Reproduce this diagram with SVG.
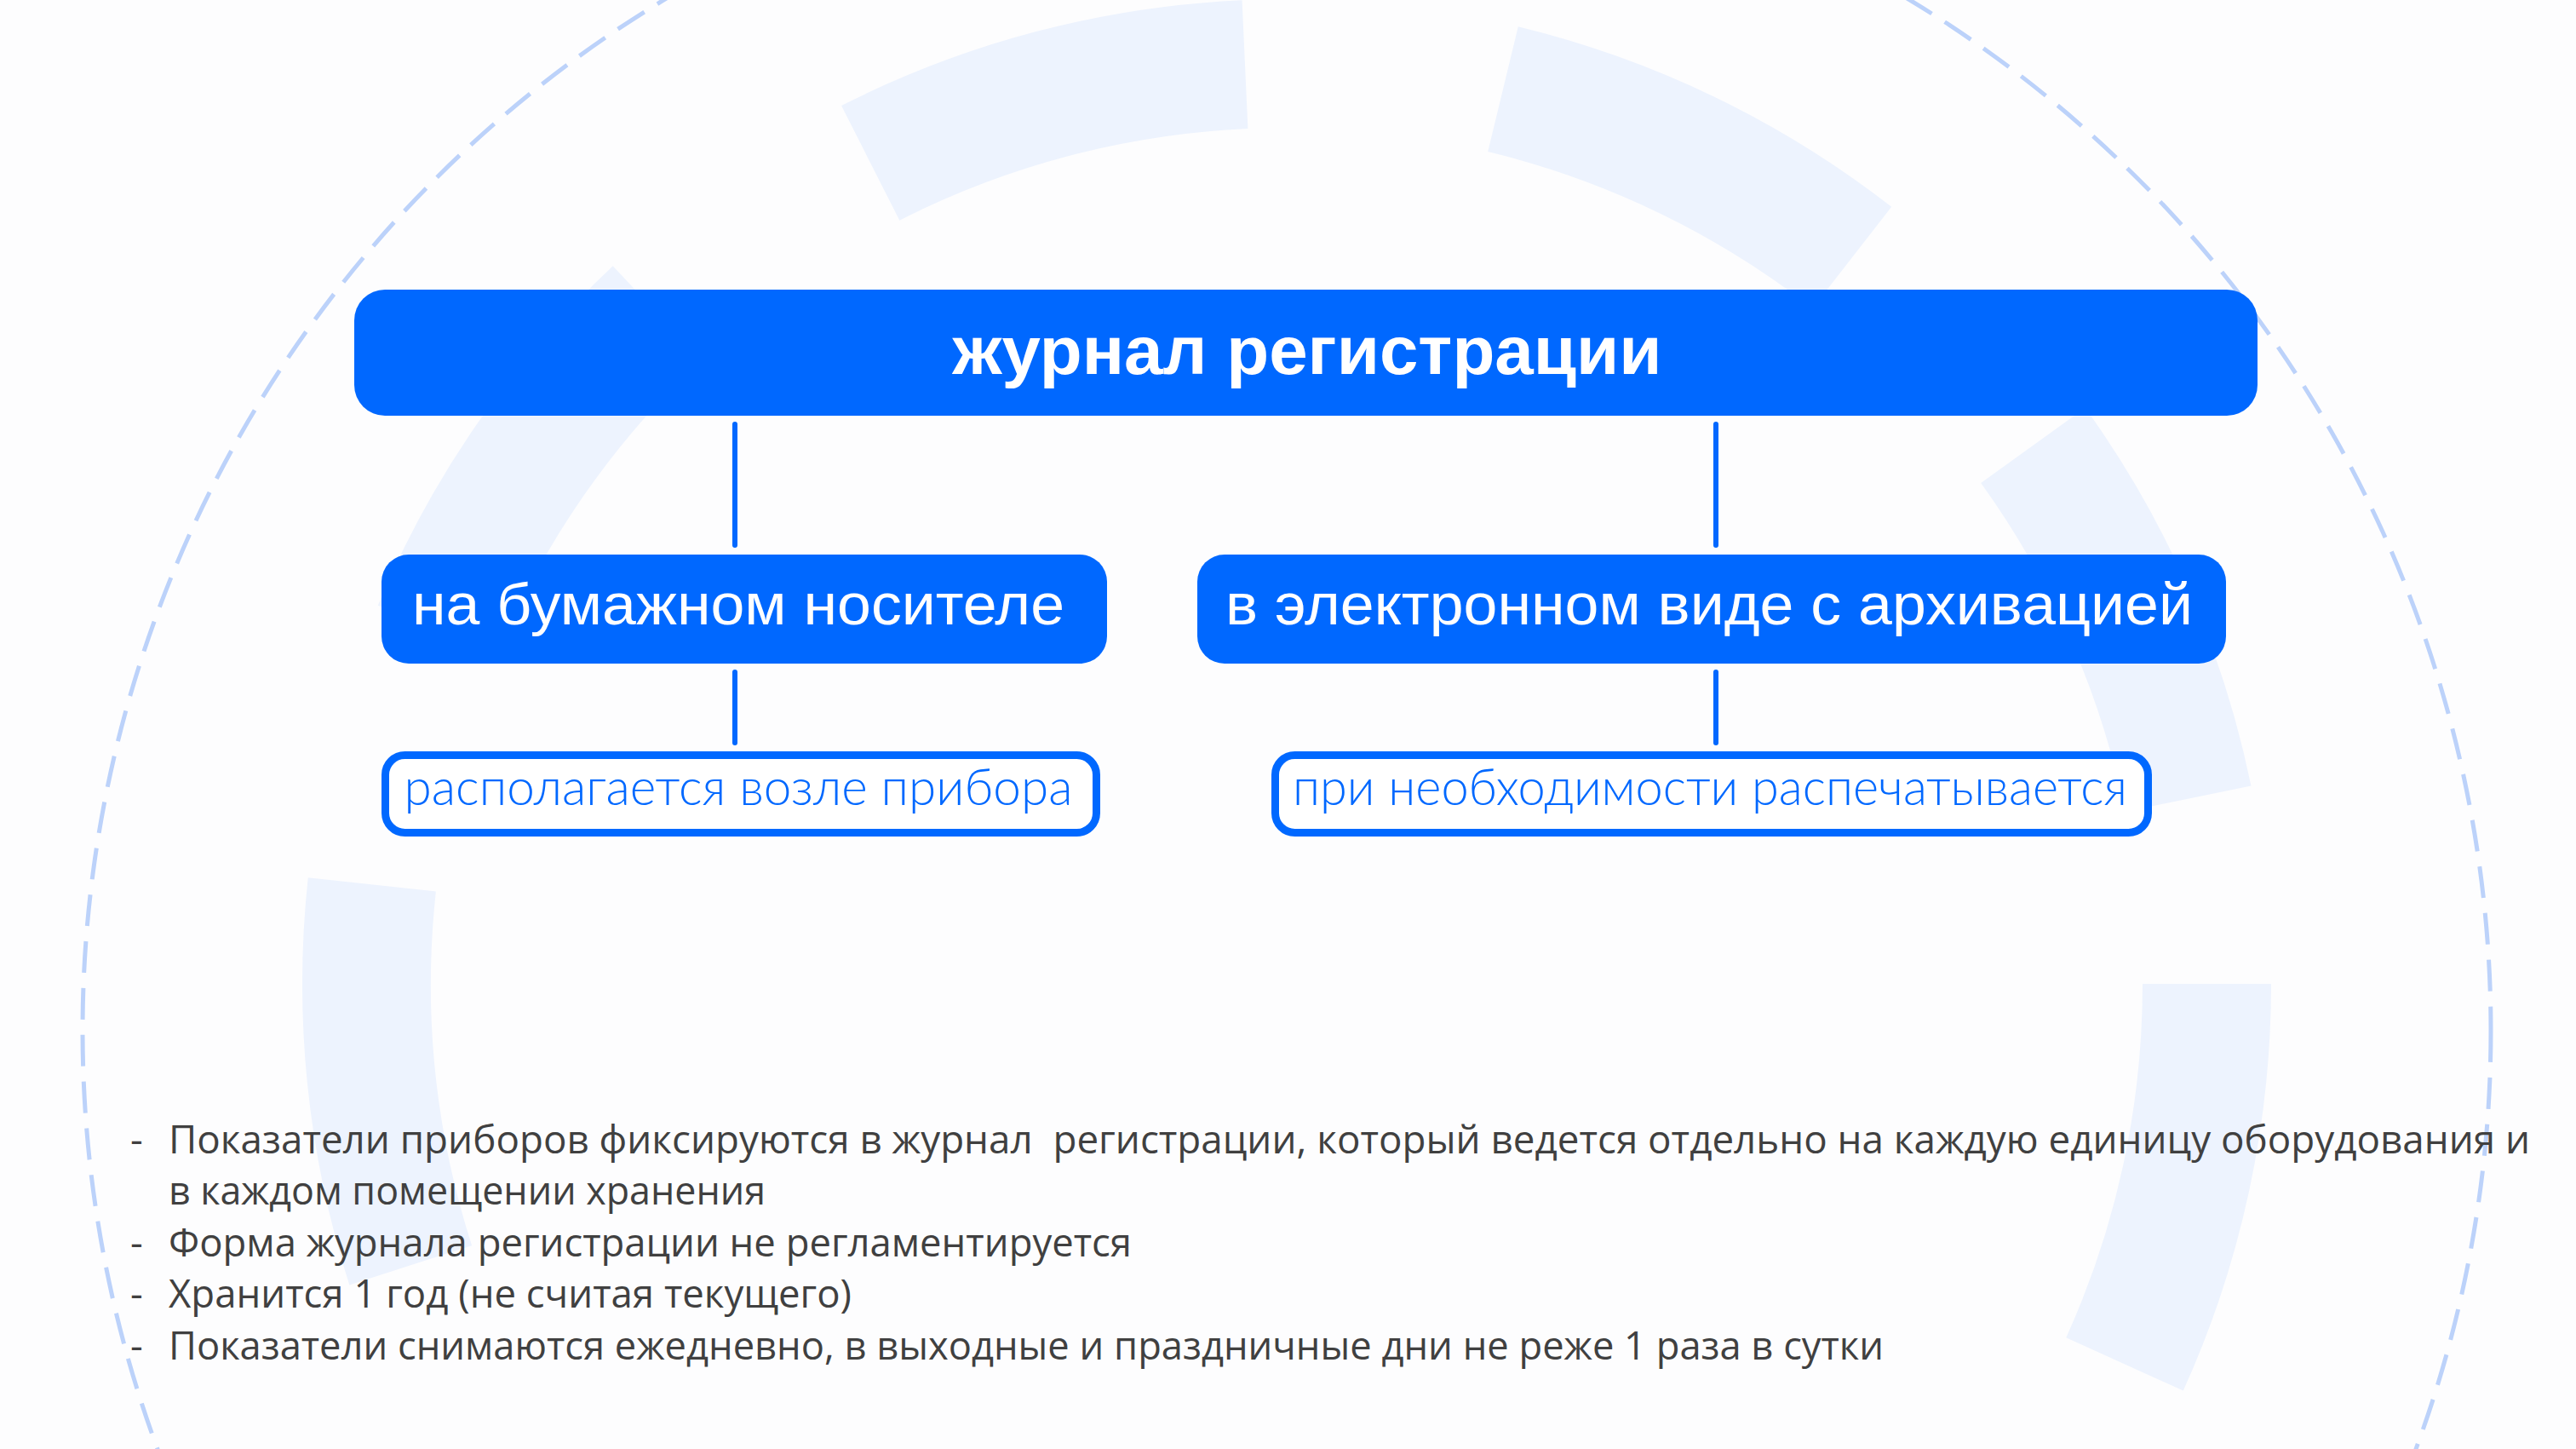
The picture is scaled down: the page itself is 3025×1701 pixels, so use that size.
<svg xmlns="http://www.w3.org/2000/svg" width="3025" height="1701" viewBox="0 0 3025 1701">
<style>
.ring{fill:none;stroke:#edf3fe;stroke-width:151;stroke-linecap:butt}
.dash{fill:none;stroke:#bcd2fa;stroke-width:5;stroke-dasharray:37 18}
.solid{fill:#0068ff}
.outline{fill:#ffffff;stroke:#0068ff;stroke-width:9}
.conn{stroke:#0068ff;stroke-width:6;stroke-linecap:round}
.t1{font-family:"Liberation Sans",Arial,sans-serif;font-weight:bold;font-size:80px;fill:#ffffff;text-anchor:middle}
.t2{font-family:"Liberation Sans",Arial,sans-serif;font-size:68px;fill:#ffffff;text-anchor:middle}
.t3{font-family:Lato,Roboto,"Liberation Sans",sans-serif;font-weight:300;font-size:60px;fill:#0068ff;text-anchor:middle}
.b{font-family:"Open Sans","Liberation Sans",sans-serif;font-size:46px;fill:#404040}
</style>
<rect x="0" y="0" width="3025" height="1701" fill="#fdfdfe"/>
<g id="background">
<path class="ring" d="M2591.5,1155 A1080.5,1080.5 0 0 1 2495,1601.4"/>
<path class="ring" d="M482.2,1485.3 A1080.5,1080.5 0 0 1 436.8,1038.3"/>
<path class="ring" d="M513.5,739.8 A1080.5,1080.5 0 0 1 771.4,367.3"/>
<path class="ring" d="M1022.2,191.4 A1080.5,1080.5 0 0 1 1462,75.6"/>
<path class="ring" d="M1765,104.7 A1080.5,1080.5 0 0 1 2174.8,302.4"/>
<path class="ring" d="M2387.4,522.9 A1080.5,1080.5 0 0 1 2569.5,937.7"/>
<circle class="dash" cx="1511" cy="1210" r="1414"/>
</g>
<g id="connectors">
<line class="conn" x1="863" y1="498" x2="863" y2="640"/>
<line class="conn" x1="2015" y1="498" x2="2015" y2="640"/>
<line class="conn" x1="863" y1="789" x2="863" y2="872"/>
<line class="conn" x1="2015" y1="789" x2="2015" y2="872"/>
</g>
<g id="node-journal">
<rect class="solid" x="416" y="340" width="2235" height="148" rx="36"/>
<text class="t1" x="1535" y="439" textLength="833" lengthAdjust="spacingAndGlyphs">журнал регистрации</text>
</g>
<g id="node-paper">
<rect class="solid" x="448" y="651" width="852" height="128" rx="32"/>
<text class="t2" x="867" y="733" textLength="766" lengthAdjust="spacingAndGlyphs">на бумажном носителе</text>
</g>
<g id="node-electronic">
<rect class="solid" x="1406" y="651" width="1208" height="128" rx="32"/>
<text class="t2" x="2007" y="733" textLength="1136" lengthAdjust="spacingAndGlyphs">в электронном виде с архивацией</text>
</g>
<g id="node-near">
<rect class="outline" x="452.5" y="886.5" width="835" height="91" rx="23"/>
<text class="t3" x="867" y="945" textLength="785" lengthAdjust="spacingAndGlyphs">располагается возле прибора</text>
</g>
<g id="node-print">
<rect class="outline" x="1497.5" y="886.5" width="1025" height="91" rx="23"/>
<text class="t3" x="2008" y="945" textLength="980" lengthAdjust="spacingAndGlyphs">при необходимости распечатывается</text>
</g>
<g id="notes">
<text class="b" x="153" y="1354">-</text>
<text class="b" x="198" y="1354" textLength="2773" lengthAdjust="spacingAndGlyphs" xml:space="preserve" style="white-space:pre">Показатели приборов фиксируются в журнал  регистрации, который ведется отдельно на каждую единицу оборудования и</text>
<text class="b" x="198" y="1414" textLength="701" lengthAdjust="spacingAndGlyphs">в каждом помещении хранения</text>
<text class="b" x="153" y="1475">-</text>
<text class="b" x="198" y="1475" textLength="1131" lengthAdjust="spacingAndGlyphs">Форма журнала регистрации не регламентируется</text>
<text class="b" x="153" y="1535">-</text>
<text class="b" x="198" y="1535" textLength="802" lengthAdjust="spacingAndGlyphs">Хранится 1 год (не считая текущего)</text>
<text class="b" x="153" y="1596">-</text>
<text class="b" x="198" y="1596" textLength="2014" lengthAdjust="spacingAndGlyphs">Показатели снимаются ежедневно, в выходные и праздничные дни не реже 1 раза в сутки</text>
</g>
</svg>
